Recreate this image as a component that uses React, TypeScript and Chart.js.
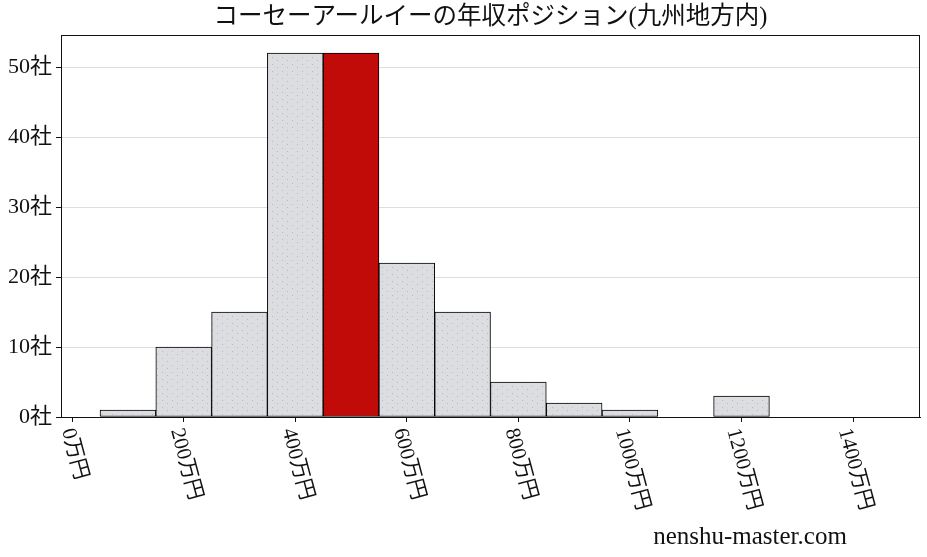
import { useEffect, useRef } from 'react';
import { Chart, registerables, type Plugin } from 'chart.js';

Chart.register(...registerables);

// histogram bins: centres in 万円, 100万円 wide
const binCenters = [100, 200, 300, 400, 500, 600, 700, 800, 900, 1000, 1100, 1200, 1300, 1400];
const companyCounts = [1, 10, 15, 52, 52, 22, 15, 5, 2, 1, 0, 3, 0, 0];
const highlightIndex = 4;
const xTickValues = [0, 200, 400, 600, 800, 1000, 1200, 1400];
const yTickValues = [0, 10, 20, 30, 40, 50];
const titleText = 'コーセーアールイーの年収ポジション(九州地方内)';
const watermark = 'nenshu-master.com';

const FONT = "'Liberation Serif', 'Noto Sans CJK JP', serif";

function makeDotPattern(): CanvasPattern | string {
  const tile = document.createElement('canvas');
  tile.width = 10;
  tile.height = 7;
  const c = tile.getContext('2d');
  if (!c) return '#dcdde0';
  c.fillStyle = '#dcdde0';
  c.fillRect(0, 0, 10, 7);
  c.fillStyle = '#b9babe';
  c.fillRect(2, 1, 1, 1);
  c.fillRect(7, 4, 1, 1);
  return c.createPattern(tile, 'repeat') ?? '#dcdde0';
}

const decorations: Plugin<'bar'> = {
  id: 'decorations',
  afterDraw(chart) {
    const { ctx, chartArea } = chart;
    const xScale = chart.scales.x;
    ctx.save();
    // frame
    ctx.strokeStyle = '#111';
    ctx.lineWidth = 1;
    ctx.strokeRect(chartArea.left + 0.5, chartArea.top + 0.5, chartArea.right - chartArea.left - 1, chartArea.bottom - chartArea.top);

    // rotated x tick labels
    const angle = (75 * Math.PI) / 180;
    const size = 21;
    ctx.font = `${size}px ${FONT}`;
    ctx.fillStyle = '#111';
    ctx.textAlign = 'left';
    ctx.textBaseline = 'middle';
    for (const v of xTickValues) {
      const label = `${v}万円`;
      const w = ctx.measureText(label).width;
      const tx = xScale.getPixelForValue(v) + 2;
      const ax = tx - (w * Math.cos(angle)) / 2;
      const ay = chartArea.bottom + 9 + (size / 2) * Math.cos(angle);
      ctx.save();
      ctx.translate(ax, ay);
      ctx.rotate(angle);
      ctx.fillText(label, 0, 0);
      ctx.restore();
    }

    // title
    ctx.font = `24.5px ${FONT}`;
    ctx.textAlign = 'center';
    ctx.textBaseline = 'middle';
    ctx.fillText(titleText, (chartArea.left + chartArea.right) / 2, 18);

    // site mark
    ctx.font = `25px ${FONT}`;
    ctx.fillText(watermark, 750, 537);
    ctx.restore();
  },
};

export default function App() {
  const canvasRef = useRef<HTMLCanvasElement | null>(null);

  useEffect(() => {
    if (!canvasRef.current) return;
    const dots = makeDotPattern();
    const chart = new Chart(canvasRef.current, {
      type: 'bar',
      data: {
        datasets: [
          {
            data: binCenters.map((x, i) => ({ x, y: companyCounts[i] })),
            backgroundColor: binCenters.map((_, i) => (i === highlightIndex ? '#c00b09' : dots)),
            borderColor: '#000',
            borderWidth: 1,
            borderSkipped: false,
            barPercentage: 1,
            categoryPercentage: 1,
          },
        ],
      },
      options: {
        animation: false,
        responsive: true,
        maintainAspectRatio: false,
        devicePixelRatio: 1,
        layout: { padding: { top: 35, right: 7, bottom: 135, left: 4 } },
        plugins: {
          legend: { display: false },
          title: { display: false },
          tooltip: { enabled: false },
        },
        scales: {
          x: {
            type: 'linear',
            min: -20,
            max: 1520,
            offset: false,
            afterBuildTicks(scale) {
              scale.ticks = xTickValues.map((value) => ({ value }));
            },
            grid: {
              offset: false,
              drawOnChartArea: false,
              drawTicks: true,
              tickLength: 5,
              tickColor: '#111',
            },
            border: { display: true, color: '#111' },
            ticks: { display: false },
          },
          y: {
            min: 0,
            max: 54.6,
            afterBuildTicks(scale) {
              scale.ticks = yTickValues.map((value) => ({ value }));
            },
            grid: {
              color: '#dedede',
              tickColor: '#111',
              tickLength: 5,
            },
            border: { display: true, color: '#111' },
            ticks: {
              padding: 4,
              color: '#111',
              font: { family: FONT, size: 22 },
              callback: (value) => `${value}社`,
            },
          },
        },
      },
      plugins: [decorations],
    });

    return () => {
      chart.destroy();
    };
  }, []);

  return (
    <div style={{ position: 'fixed', left: 0, top: 0, width: 927, height: 557, background: '#fff' }}>
      <canvas ref={canvasRef} />
    </div>
  );
}
